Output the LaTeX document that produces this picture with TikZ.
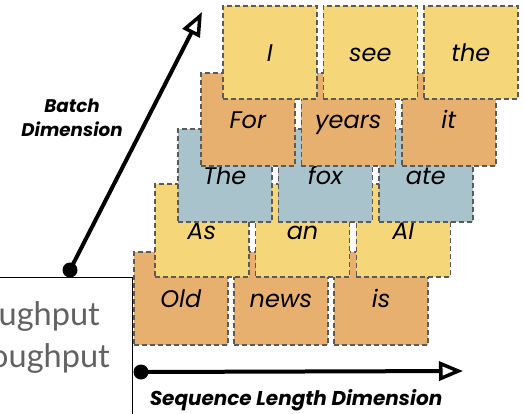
\documentclass[tikz,border=0pt]{standalone}
\usepackage{fontspec}
\setmainfont{Lato}
\newfontfamily\geofont{Poppins}
\usetikzlibrary{arrows.meta}
\definecolor{tokyellow}{HTML}{F5D77A}
\definecolor{tokorange}{HTML}{E8B06F}
\definecolor{tokblue}{HTML}{A8C3CB}
\definecolor{dashgray}{HTML}{5A5A5A}
\definecolor{capgray}{HTML}{626262}
\tikzset{
  token/.style={draw=dashgray, line width=1.5pt, dash pattern=on 5pt off 3pt,
    minimum width=94pt, minimum height=93pt, anchor=north west, inner sep=0pt,
    text height=21.5pt, text depth=3.5pt,
    font=\geofont\fontsize{24}{24}\itshape, text=black},
  dimarrow/.style={line width=4pt, -{Triangle[open, length=24pt, width=19pt, line width=3.5pt, fill=white]}},
  dimdot/.style={circle, fill=black, inner sep=0pt, minimum size=15pt},
  dimlabel/.style={font=\geofont\fontsize{18.3}{24}\bfseries\itshape, align=center},
}
\begin{document}
\begin{tikzpicture}[x=1pt, y=-1pt]
\useasboundingbox (0,0) rectangle (524,413);
% axis dots (drawn first so the panel overlaps them)
\node[dimdot] (bdot) at (70,270) {};
\node[dimdot] (sdot) at (141,372) {};
\coordinate (btip) at (202,12);
\coordinate (stip) at (463,371);
% rows of tokens, back to front
\foreach \w [count=\i from 0] in {Old,news,is}
  \node[token, fill=tokorange] (r5\i) at (133+100.2*\i,251) {\w};
\foreach \w [count=\i from 0] in {As,an,AI}
  \node[token, fill=tokyellow] (r4\i) at (154+100.8*\i,183) {\w};
\foreach \w [count=\i from 0] in {The,fox,ate}
  \node[token, fill=tokblue] (r3\i) at (177+100.5*\i,128) {\w};
\foreach \w [count=\i from 0] in {For,years,it}
  \node[token, fill=tokorange] (r2\i) at (200+100.5*\i,72) {\w};
\foreach \w [count=\i from 0] in {I,see,the}
  \node[token, fill=tokyellow] (r1\i) at (222+100.5*\i,5) {\w};
% axes
\draw[dimarrow] (bdot.center) -- (btip);
\draw[dimarrow] (sdot.center) -- (stip);
\node[dimlabel] (blabel) at (72,118) {Batch\\Dimension};
\node[dimlabel, font=\geofont\fontsize{20}{20}\bfseries\itshape] (slabel) at (296,400) {Sequence Length Dimension};
% throughput panel
\node[draw=black, line width=1.3pt, fill=white, anchor=north east,
  minimum width=180pt, minimum height=160pt] (panel) at (133,277) {};
\node[anchor=base east, text=capgray, font=\fontsize{32.5}{32}\selectfont, inner sep=0pt] (line1) at (100,325) {ughput};
\node[anchor=base east, text=capgray, font=\fontsize{32.5}{32}\selectfont, inner sep=0pt] (line2) at (110,367) {oughput};
\end{tikzpicture}
\end{document}
